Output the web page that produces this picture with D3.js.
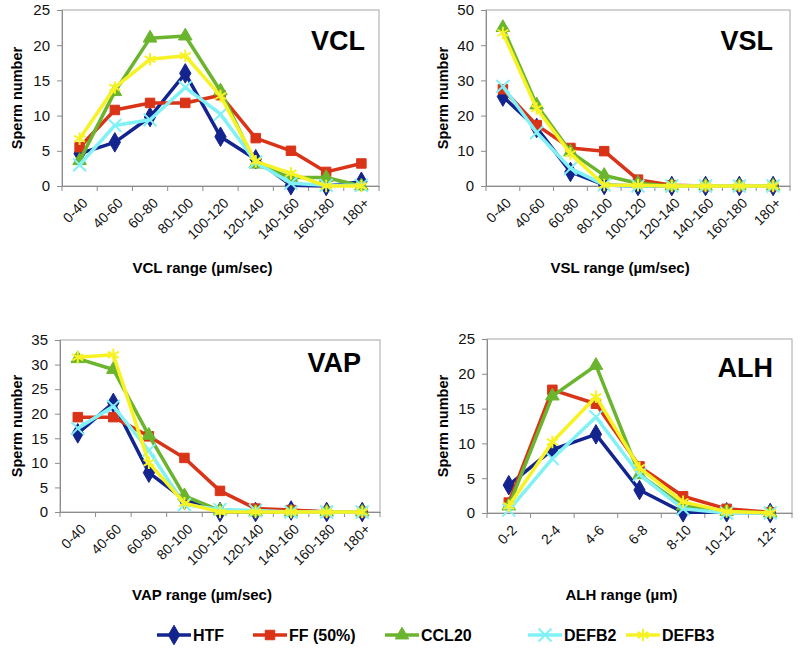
<!DOCTYPE html>
<html>
<head>
<meta charset="utf-8">
<script src="https://cdn.jsdelivr.net/npm/d3@7"></script>
<style>
  html, body { margin: 0; padding: 0; background: #fff; }
  svg { display: block; font-family: "Liberation Sans", Arial, sans-serif; }
</style>
</head>
<body>
<svg id="chart" width="800" height="650"></svg>
<script>
// ---------- data ----------
const seriesNames = ["HTF", "FF (50%)", "CCL20", "DEFB2", "DEFB3"];
const velocityBins = ["0-40", "40-60", "60-80", "80-100", "100-120", "120-140", "140-160", "160-180", "180+"];
const alhBins = ["0-2", "2-4", "4-6", "6-8", "8-10", "10-12", "12+"];

const vclTicks = [0, 5, 10, 15, 20, 25];
const vclHTF   = [4.6, 6.2, 9.8, 16.0, 7.0, 3.8, 0.1, 0.0, 0.6];
const vclFF    = [5.5, 10.8, 11.8, 11.8, 12.9, 6.8, 5.0, 2.0, 3.2];
const vclCCL20 = [3.6, 13.4, 21.0, 21.3, 13.5, 3.1, 1.2, 1.2, 0.0];
const vclDEFB2 = [3.0, 8.6, 9.4, 14.0, 10.2, 3.4, 0.4, 0.1, 0.1];
const vclDEFB3 = [6.7, 14.0, 18.0, 18.5, 12.8, 3.5, 1.8, 0.0, 0.0];

const vslTicks = [0, 10, 20, 30, 40, 50];
const vslHTF   = [25.4, 16.5, 4.0, 0.3, 0.0, 0.0, 0.0, 0.0, 0.0];
const vslFF    = [27.5, 17.3, 10.8, 9.9, 1.8, 0.2, 0.0, 0.0, 0.0];
const vslCCL20 = [45.0, 23.0, 9.7, 3.0, 0.8, 0.0, 0.0, 0.0, 0.0];
const vslDEFB2 = [28.3, 15.2, 5.0, 0.3, 0.0, 0.0, 0.0, 0.0, 0.0];
const vslDEFB3 = [43.5, 22.0, 9.2, 0.3, 0.2, 0.0, 0.0, 0.0, 0.0];

const vapTicks = [0, 5, 10, 15, 20, 25, 30, 35];
const vapHTF   = [16.0, 22.2, 8.0, 2.5, 0.0, 0.0, 0.3, 0.0, 0.0];
const vapFF    = [19.3, 19.3, 15.4, 11.0, 4.3, 0.7, 0.4, 0.0, 0.0];
const vapCCL20 = [31.2, 29.0, 15.6, 3.3, 0.3, 0.0, 0.0, 0.0, 0.0];
const vapDEFB2 = [17.0, 21.5, 12.5, 1.5, 0.5, 0.3, 0.0, 0.0, 0.0];
const vapDEFB3 = [31.5, 32.0, 10.0, 1.8, 0.0, 0.0, 0.0, 0.0, 0.0];

const alhTicks = [0, 5, 10, 15, 20, 25];
const alhHTF   = [4.0, 9.1, 11.3, 3.3, 0.1, 0.1, 0.0];
const alhFF    = [1.5, 17.7, 15.7, 6.7, 2.4, 0.6, 0.1];
const alhCCL20 = [1.0, 16.8, 21.2, 5.5, 1.0, 0.2, 0.0];
const alhDEFB2 = [0.4, 7.8, 13.8, 5.5, 0.6, 0.0, 0.0];
const alhDEFB3 = [1.0, 10.2, 16.7, 6.5, 1.6, 0.2, 0.0];

// ---------- styles ----------
const colors = ["#14248f", "#d93418", "#6bb52e", "#80f2f5", "#f7f224"];
const symbols = [d3.symbolDiamond, d3.symbolSquare, d3.symbolTriangle, d3.symbolX, d3.symbolAsterisk];
const symbolSizes = [110, 90, 80, 110, 110];
const strokeSymbol = [false, false, false, true, true];

const panels = [
  { title: "VCL", xTitle: "VCL range (\u00b5m/sec)", cats: velocityBins, ticks: vclTicks,
    series: [vclHTF, vclFF, vclCCL20, vclDEFB2, vclDEFB3],
    box: { l: 62, r: 379, t: 10, b: 186 }, titleX: 365, titleY: 50, yTitleX: 17, xTitleY: 273 },
  { title: "VSL", xTitle: "VSL range (\u00b5m/sec)", cats: velocityBins, ticks: vslTicks,
    series: [vslHTF, vslFF, vslCCL20, vslDEFB2, vslDEFB3],
    box: { l: 486, r: 790, t: 10, b: 186 }, titleX: 773, titleY: 50, yTitleX: 443, xTitleY: 273 },
  { title: "VAP", xTitle: "VAP range (\u00b5m/sec)", cats: velocityBins, ticks: vapTicks,
    series: [vapHTF, vapFF, vapCCL20, vapDEFB2, vapDEFB3],
    box: { l: 60, r: 380, t: 340, b: 512 }, titleX: 361, titleY: 372, yTitleX: 17, xTitleY: 600 },
  { title: "ALH", xTitle: "ALH range (\u00b5m)", cats: alhBins, ticks: alhTicks,
    series: [alhHTF, alhFF, alhCCL20, alhDEFB2, alhDEFB3],
    box: { l: 487, r: 792, t: 339, b: 513 }, titleX: 773, titleY: 377, yTitleX: 443, xTitleY: 600 }
];

const svg = d3.select("#chart");

function drawPanel(p) {
  const { l, r, t, b } = p.box;
  const g = svg.append("g");
  const x = d3.scaleBand().domain(p.cats).range([l, r]);
  const y = d3.scaleLinear().domain([p.ticks[0], p.ticks[p.ticks.length - 1]]).range([b, t]);

  // plot frame (top/right)
  g.append("rect").attr("x", l).attr("y", t).attr("width", r - l).attr("height", b - t)
    .attr("fill", "none").attr("stroke", "#a6a6a6").attr("stroke-width", 1);

  // y axis
  const yAxis = g.append("g").attr("transform", `translate(${l},0)`)
    .call(d3.axisLeft(y).tickValues(p.ticks).tickSize(5).tickPadding(7).tickFormat(d3.format("d")));
  yAxis.select(".domain").attr("stroke", "#8c8c8c");
  yAxis.selectAll(".tick line").attr("stroke", "#8c8c8c");
  yAxis.selectAll("text").attr("font-size", 15).attr("fill", "#111")
    .attr("font-family", "'Liberation Sans', Arial, sans-serif");

  // x axis
  const xAxis = g.append("g").attr("transform", `translate(0,${b})`)
    .call(d3.axisBottom(x).tickSize(0).tickFormat(d => d));
  xAxis.select(".domain").attr("stroke", "#8c8c8c");
  xAxis.selectAll(".tick text")
    .attr("font-size", 14).attr("fill", "#111")
    .attr("font-family", "'Liberation Sans', Arial, sans-serif")
    .attr("text-anchor", "end")
    .attr("dy", null).attr("y", 0)
    .attr("transform", "translate(9,18) rotate(-45)");
  // boundary tick marks
  const bounds = p.cats.map(c => x(c)).concat([x(p.cats[p.cats.length - 1]) + x.bandwidth()]);
  g.selectAll("line.bt").data(bounds).enter().append("line").attr("class", "bt")
    .attr("x1", d => d).attr("x2", d => d).attr("y1", b).attr("y2", b + 5)
    .attr("stroke", "#8c8c8c");

  // series
  p.series.forEach((vals, si) => {
    const pts = vals.map((v, i) => [x(p.cats[i]) + x.bandwidth() / 2, y(v)]);
    g.append("path").attr("d", d3.line()(pts))
      .attr("fill", "none").attr("stroke", colors[si]).attr("stroke-width", 3.5)
      .attr("stroke-linejoin", "round");
    const sym = d3.symbol().type(symbols[si]).size(symbolSizes[si]);
    g.selectAll(null).data(pts).enter().append("path")
      .attr("d", sym)
      .attr("transform", d => `translate(${d[0]},${d[1]})`)
      .attr("fill", strokeSymbol[si] ? "none" : colors[si])
      .attr("stroke", colors[si]).attr("stroke-width", strokeSymbol[si] ? 2 : 1);
  });

  // panel title
  g.append("text").attr("x", p.titleX).attr("y", p.titleY).attr("text-anchor", "end")
    .attr("font-size", 27).attr("font-weight", "bold").attr("fill", "#000").text(p.title);

  // y title
  g.append("text").attr("transform", `translate(${p.yTitleX},${(t + b) / 2}) rotate(-90)`)
    .attr("text-anchor", "middle").attr("dy", "0.35em")
    .attr("font-size", 14.5).attr("font-weight", "bold").attr("fill", "#000").text("Sperm number");

  // x title
  g.append("text").attr("x", (l + r) / 2 - 18).attr("y", p.xTitleY).attr("text-anchor", "middle")
    .attr("font-size", 15).attr("font-weight", "bold").attr("fill", "#000").text(p.xTitle);
}

panels.forEach(drawPanel);

// ---------- legend ----------
const legendX = [157, 253, 385, 528, 626];
const legendY = 635;
const lg = svg.append("g");
seriesNames.forEach((name, si) => {
  const x0 = legendX[si];
  lg.append("line").attr("x1", x0).attr("x2", x0 + 34).attr("y1", legendY).attr("y2", legendY)
    .attr("stroke", colors[si]).attr("stroke-width", 3.5);
  lg.append("path").attr("d", d3.symbol().type(symbols[si]).size(symbolSizes[si])())
    .attr("transform", `translate(${x0 + 17},${legendY})`)
    .attr("fill", strokeSymbol[si] ? "none" : colors[si])
    .attr("stroke", colors[si]).attr("stroke-width", strokeSymbol[si] ? 2 : 1);
  lg.append("text").attr("x", x0 + 36).attr("y", legendY).attr("dy", "0.36em")
    .attr("font-size", 16).attr("font-weight", "bold").attr("fill", "#000").text(name);
});
</script>
</body>
</html>
